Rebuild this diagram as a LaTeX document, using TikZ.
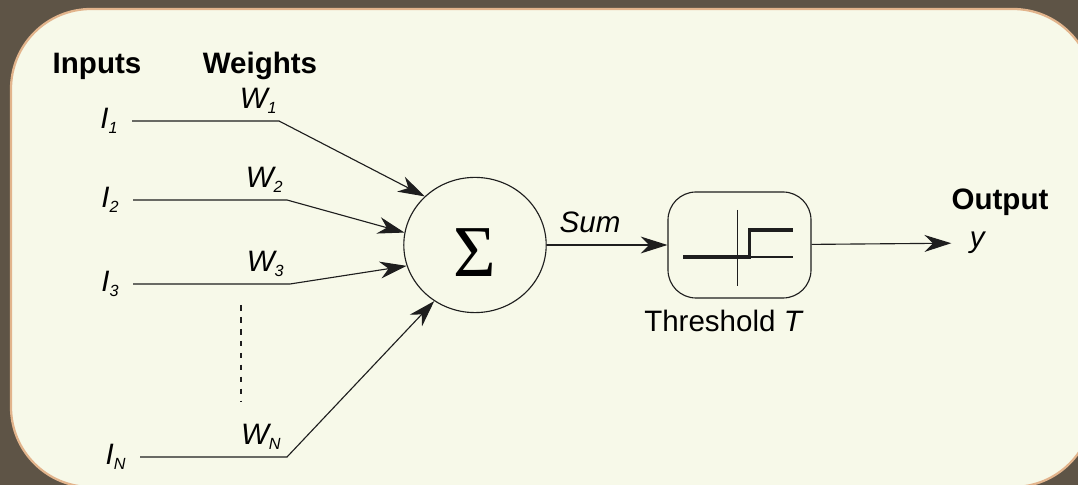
\documentclass[tikz,border=0pt]{standalone}
\usepackage[no-math]{fontspec}
\setmainfont{Liberation Sans}
\newfontfamily\sigmafont{Liberation Serif}
\usetikzlibrary{arrows.meta,positioning,shapes.geometric}
\definecolor{frameBrown}{RGB}{94,84,70}
\definecolor{panelCream}{RGB}{247,249,233}
\definecolor{panelEdge}{RGB}{226,180,140}
\definecolor{inkGrey}{RGB}{30,30,30}
% small index under I and W
\newcommand{\idx}[1]{\textsubscript{\fontsize{11.5}{13}\selectfont #1}}

\begin{document}
\begin{tikzpicture}[
      every node/.style={font=\fontsize{21}{25}\selectfont, inner sep=1pt},
      hd/.style={font=\fontsize{21}{25}\selectfont\bfseries},
      inp/.style={font=\fontsize{21}{25}\selectfont\itshape},
      wt/.style={font=\fontsize{21}{25}\selectfont\itshape},
      sm/.style={ellipse, draw=inkGrey, line width=0.8pt, inner sep=0pt,
                 minimum width=3.56cm, minimum height=3.38cm},
      th/.style={rectangle, rounded corners=0.7cm, draw=inkGrey, line width=0.8pt,
                 minimum width=3.575cm, minimum height=2.65cm},
      ln/.style={inkGrey, line width=0.8pt},
      ar/.style={ln, -{Stealth[length=19pt, width=12pt, inset=6pt]}}
    ]
    \useasboundingbox (0,0) rectangle (26.95,12.125);
    % background and panel
    \fill[frameBrown] (0,0) rectangle (26.95,12.125);
    \draw[panelEdge, line width=1.6pt, fill=panelCream, rounded corners=2cm]
      (0.275,-0.05) rectangle (27.325,11.9);
    % headings
    \node[hd] (inputs) at (2.425,10.475) {Inputs};
    \node[hd] (weights) at (6.5,10.475) {Weights};
    % input lines: start and weight joints
    \coordinate (a1) at (3.3,9.1);    \coordinate (b1) at (6.975,9.1);
    \coordinate (a2) at (3.325,7.125); \coordinate (b2) at (7.175,7.125);
    \coordinate (a3) at (3.325,5.025); \coordinate (b3) at (7.25,5.025);
    \coordinate (an) at (3.5,0.7);    \coordinate (bn) at (7.175,0.7);
    % input labels
    \node[inp, left=0.3cm of a1] (i1) {I\idx{1}};
    \node[inp, left=0.3cm of a2] (i2) {I\idx{2}};
    \node[inp, left=0.3cm of a3] (i3) {I\idx{3}};
    \node[inp, left=0.3cm of an] (in) {I\idx{N}};
    % weight labels
    \node[wt, above left=0.15cm and 0cm of b1] (w1) {W\idx{1}};
    \node[wt, above left=0.15cm and 0.05cm of b2] (w2) {W\idx{2}};
    \node[wt, above left=0.15cm and 0.1cm of b3] (w3) {W\idx{3}};
    \node[wt, above left=0.15cm and 0.1cm of bn] (wn) {W\idx{N}};
    % summing junction
    \node[sm] (sum) at (11.875,6.0) {};
    \node (sigma) at ([yshift=-0.2cm]sum.center) {\sigmafont\fontsize{52}{60}\selectfont Σ};
    \node[inp] (sumlab) at (14.75,6.575) {Sum};
    % threshold unit
    \node[th] (thr) at (18.4875,6.0) {};
    \begin{scope}[shift={(thr.center)}]
      \draw[ln] (-0.04,0.875) -- (-0.04,-1.025);
      \draw[ln] (-0.04,-0.3) -- (1.34,-0.3);
      \draw[inkGrey, line width=2.2pt] (-1.41,-0.3) -- (0.26,-0.3) -- (0.26,0.375) -- (1.34,0.375);
    \end{scope}
    \node[below=0.25cm of thr, xshift=-0.39cm] (thrlab) {Threshold \textit{T}};
    % output
    \node[inp] (y) at (24.43,6.05) {y};
    \node[hd] (out) at (25.0,7.075) {Output};
    % edges
    \draw[ar] (a1) -- (b1) -- (sum.136);
    \draw[ar] (a2) -- (b2) -- (sum.170);
    \draw[ar] (a3) -- (b3) -- (sum.197);
    \draw[ar] (an) -- (bn) -- (sum.234);
    \coordinate (d1) at (6.025,4.5);
    \coordinate (d2) at (6.025,2.075);
    \draw[ln, dash pattern=on 4pt off 4.5pt] (d1) -- (d2);
    \draw[ar] (sum) -- (thr);
    \draw[ar, shorten >=12pt] (thr) -- (y);
  \end{tikzpicture}
\end{document}
